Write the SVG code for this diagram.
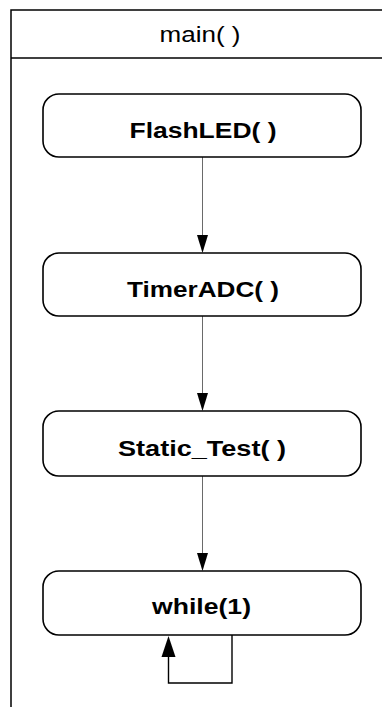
<svg xmlns="http://www.w3.org/2000/svg" width="382" height="707" viewBox="0 0 382 707">
<style>
.frame{fill:#fff;stroke:#000;stroke-width:1.5}
.box{fill:#fff;stroke:#000;stroke-width:1.6}
.lbl{font-family:"Liberation Sans",Arial,sans-serif;font-size:22.5px;font-weight:bold;fill:#000;text-anchor:middle}
.title{font-family:"Liberation Sans",Arial,sans-serif;font-size:22.5px;fill:#000;text-anchor:middle}
.conn{fill:none;stroke:#6a6a6a;stroke-width:1}
.loop{fill:none;stroke:#000;stroke-width:1.4}
.head{fill:#000;stroke:none}
</style>
<rect width="382" height="707" fill="#fff"/>
<g id="frame">
<rect class="frame" x="11" y="10" width="400" height="720"/>
<line x1="11" y1="58" x2="400" y2="58" stroke="#000" stroke-width="1.5"/>
<text class="title" x="200" y="42" textLength="81" lengthAdjust="spacingAndGlyphs">main( )</text>
</g>
<g id="connectors">
<line class="conn" x1="202.5" y1="157" x2="202.5" y2="240"/>
<polygon class="head" points="197,235 208,235 202.5,253"/>
<line class="conn" x1="202.5" y1="316" x2="202.5" y2="398"/>
<polygon class="head" points="197,393 208,393 202.5,411"/>
<line class="conn" x1="202.5" y1="476" x2="202.5" y2="558"/>
<polygon class="head" points="197,553 208,553 202.5,571"/>
<polyline class="loop" points="232,635 232,683 168.5,683 168.5,655"/>
<polygon class="head" points="161.5,657 175.5,657 168.5,636"/>
</g>
<g id="flashled">
<rect class="box" x="43" y="94" width="318" height="63" rx="16" ry="16"/>
<text class="lbl" x="203" y="137.5" textLength="147" lengthAdjust="spacingAndGlyphs">FlashLED( )</text>
</g>
<g id="timeradc">
<rect class="box" x="43" y="253" width="318" height="63" rx="16" ry="16"/>
<text class="lbl" x="203" y="296.5" textLength="152" lengthAdjust="spacingAndGlyphs">TimerADC( )</text>
</g>
<g id="static_test">
<rect class="box" x="43" y="411" width="318" height="65" rx="16" ry="16"/>
<text class="lbl" x="202" y="455.5" textLength="168" lengthAdjust="spacingAndGlyphs">Static_Test( )</text>
</g>
<g id="while1">
<rect class="box" x="43" y="571" width="318" height="64" rx="16" ry="16"/>
<text class="lbl" x="201.5" y="613.5" textLength="99" lengthAdjust="spacingAndGlyphs">while(1)</text>
</g>
</svg>
